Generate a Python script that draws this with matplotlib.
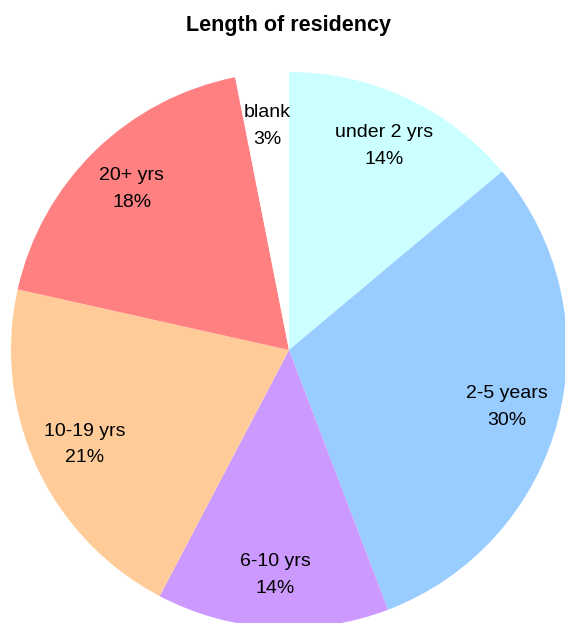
import matplotlib
matplotlib.use("Agg")
import matplotlib.pyplot as plt

categories = ["under 2 yrs", "2-5 years", "6-10 yrs", "10-19 yrs", "20+ yrs", "blank"]
values = [13.9, 30.3, 13.5, 20.8, 18.4, 3.1]
pct_labels = ["14%", "30%", "14%", "21%", "18%", "3%"]
colors = ["#CCFFFF", "#99CCFF", "#CC99FF", "#FFCC99", "#FF8080", "#FFFFFF"]

fam = ["Liberation Sans Narrow", "Liberation Sans", "DejaVu Sans"]

fig = plt.figure(figsize=(5.65, 6.23), dpi=100)
W, H = 565, 623
cx, cy, r = 289, 350, 278
ax = fig.add_axes([(cx - r) / W, (H - cy - r) / H, 2 * r / W, 2 * r / H])
labels = [f"{c}\n{p}" for c, p in zip(categories, pct_labels)]
wedges, texts = ax.pie(values, colors=colors, startangle=90, counterclock=False,
                       labels=labels, labeldistance=0.81, radius=1.0,
                       wedgeprops=dict(linewidth=0),
                       textprops=dict(fontsize=14, family=fam, ha="center",
                                      va="center", linespacing=1.75))
for t in texts:
    t.set_horizontalalignment("center")
ax.set_xlim(-1, 1)
ax.set_ylim(-1, 1)
ax.set_aspect("equal")
ax.axis("off")

fig.text(cx / W, 1 - 25 / H, "Length of residency", ha="center", va="center",
         fontsize=15.5, fontweight="bold", family=fam)

fig.savefig("out.png", dpi=100)
